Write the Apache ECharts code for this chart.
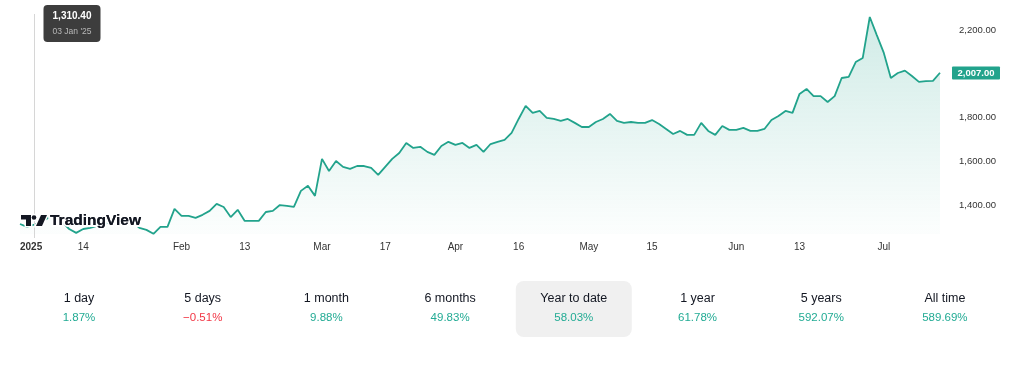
<!DOCTYPE html>
<html>
<head>
<meta charset="utf-8">
<script src="https://cdn.jsdelivr.net/npm/echarts@6/dist/echarts.min.js"></script>
<style>
html,body{margin:0;padding:0;background:#fff;}
#chart{width:1024px;height:369px;}
</style>
</head>
<body>
<div id="chart"></div>
<script>
// ---- trading days (NSE calendar) ----
const janDays = [1,2,3,6,7,8,9,10,13,14,15,16,17,20,21,22,23,24,27,28,29,30,31];
const febDays = [1,3,4,5,6,7,10,11,12,13,14,17,18,19,20,21,24,25,27,28];
const marDays = [3,4,5,6,7,10,11,12,13,17,18,19,20,21,24,25,26,27,28];
const aprDays = [1,2,3,4,7,8,9,11,15,16,17,21,22,23,24,25,28,29,30];
const mayDays = [2,5,6,7,8,9,12,13,14,15,16,19,20,21,22,23,26,27,28,29,30];
const junDays = [2,3,4,5,6,9,10,11,12,13,16,17,18,19,20,23,24,25,26,27,30];
const julDays = [1,2,3,4,7,8,9,10,11];

// ---- closing prices ----
const prices = [
1313,1300,1310.4,1322,1341,1355,1322,1290,1272,1290,
1295,1304,1313,1322,1332,1336,1322,1295,1286,1268,
1300,1300,1382,1350,1350,1341,1355,1373,1405,1391,
1345,1378,1327,1327,1327,1368,1373,1400,1396,1391,
1465,1488,1442,1612,1556,1602,1575,1566,1579,1579,
1570,1538,1575,1612,1639,1685,1662,1667,1644,1630,
1671,1690,1676,1685,1662,1676,1644,1680,1690,1699,
1731,1795,1855,1823,1832,1800,1795,1786,1795,1777,
1758,1758,1781,1795,1818,1786,1777,1781,1777,1777,
1790,1772,1749,1726,1740,1722,1722,1777,1740,1722,
1763,1745,1745,1754,1740,1740,1749,1790,1809,1832,
1823,1910,1933,1900,1900,1873,1900,1983,1988,2056,
2075,2263,2180,2098,1983,2006,2017,1992,1965,1969,
1970,2007
];

// ---- axis tick labels ----
const tickDates  = ['2025-01-01','2025-01-14','2025-02-01','2025-02-13','2025-03-03','2025-03-17','2025-04-01','2025-04-16','2025-05-02','2025-05-15','2025-06-02','2025-06-13','2025-07-01'];
const tickLabels = ['2025','14','Feb','13','Mar','17','Apr','16','May','15','Jun','13','Jul'];
const yTicks = [1400,1600,1800,2200];

// ---- performance row ----
const periodLabels = ['1 day','5 days','1 month','6 months','Year to date','1 year','5 years','All time'];
const periodValues = [1.87,-0.51,9.88,49.83,58.03,61.78,592.07,589.69];
const selectedPeriod = 4;

// ---- crosshair info ----
const hoverDate = '2025-01-03';
const hoverLabel = "03 Jan '25";

const pad = n => (n < 10 ? '0' + n : '' + n);
const dates = [];
[[1,janDays],[2,febDays],[3,marDays],[4,aprDays],[5,mayDays],[6,junDays],[7,julDays]].forEach(([m, days]) => {
  days.forEach(d => dates.push('2025-' + pad(m) + '-' + pad(d)));
});
const tickMap = new Map(tickDates.map((d, i) => [d, tickLabels[i]]));

const fmt = v => v.toLocaleString('en-US', {minimumFractionDigits: 2, maximumFractionDigits: 2});

const LINE = '#22a38c';
const FONT = '"Liberation Sans", Arial, sans-serif';

const chart = echarts.init(document.getElementById('chart'), null, {renderer: 'canvas'});

chart.setOption({
  animation: false,
  grid: {left: 20, top: 0, width: 920, height: 234, containLabel: false},
  xAxis: {
    type: 'category',
    data: dates,
    boundaryGap: false,
    axisLine: {show: false},
    axisTick: {show: false},
    splitLine: {show: false},
    axisLabel: {
      interval: (idx, val) => tickMap.has(val),
      formatter: val => {
        const t = tickMap.get(val) || '';
        return t === '2025' ? '{y|' + t + '}' : t;
      },
      alignMinLabel: 'left',
      margin: 8,
      color: '#333',
      fontSize: 10,
      fontFamily: FONT,
      rich: {y: {fontWeight: 'bold', fontSize: 10, color: '#333', fontFamily: FONT}}
    }
  },
  yAxis: {
    type: 'value',
    position: 'right',
    min: 1267,
    max: 2341,
    axisLine: {show: false},
    axisTick: {show: false},
    splitLine: {show: false},
    axisLabel: {
      customValues: yTicks,
      formatter: v => fmt(v),
      margin: 19,
      color: '#333',
      fontSize: 9.5,
      fontFamily: FONT
    }
  },
  series: [{
    type: 'line',
    data: prices,
    symbol: 'none',
    lineStyle: {color: LINE, width: 1.8},
    areaStyle: {
      color: new echarts.graphic.LinearGradient(0, 0, 0, 1, [
        {offset: 0, color: 'rgba(34,163,140,0.30)'},
        {offset: 1, color: 'rgba(34,163,140,0.02)'}
      ])
    },
    z: 2
  }]
});

// overlay elements positioned via the chart's own scales
const hi = dates.indexOf(hoverDate);
const hx = Math.round(chart.convertToPixel({xAxisIndex: 0}, hi)) + 0.5;
const last = prices[prices.length - 1];
const ly = chart.convertToPixel({yAxisIndex: 0}, last);

const g = [];
// crosshair
g.push({type: 'line', shape: {x1: hx, y1: 14, x2: hx, y2: 238}, style: {stroke: '#d6d6d6', lineWidth: 1}, z: 5});
// tooltip
g.push({type: 'rect', shape: {x: hx + 9, y: 5, width: 57, height: 37, r: 4}, style: {fill: 'rgba(45,45,45,0.92)'}, z: 20});
g.push({type: 'text', x: hx + 37.5, y: 16, style: {text: fmt(prices[hi]), fill: '#fff', font: 'bold 10px ' + FONT, align: 'center', verticalAlign: 'middle'}, z: 21});
g.push({type: 'text', x: hx + 37.5, y: 32, style: {text: hoverLabel, fill: '#b8b8b8', font: '8.5px ' + FONT, align: 'center', verticalAlign: 'middle'}, z: 21});
// last price label
g.push({type: 'rect', shape: {x: 952, y: Math.round(ly) - 6.5, width: 48, height: 13, r: 1}, style: {fill: LINE}, z: 20});
g.push({type: 'text', x: 976, y: Math.round(ly), style: {text: fmt(last), fill: '#fff', font: 'bold 9.5px ' + FONT, align: 'center', verticalAlign: 'middle'}, z: 21});

// TradingView watermark
const halo = {stroke: '#fff', lineWidth: 3};
const iconBar = [[21,215],[31,215],[31,226],[26,226],[26,219.5],[21,219.5]];
const iconSlash = [[41,215],[47,215],[42,226],[36,226]];
[10, 11].forEach(z => {
  const st = z === 10 ? halo : {};
  g.push({type: 'polygon', shape: {points: iconBar}, style: Object.assign({fill: '#131722'}, st), z});
  g.push({type: 'circle', shape: {cx: 34, cy: 217.5, r: 2.3}, style: Object.assign({fill: '#131722'}, st), z});
  g.push({type: 'polygon', shape: {points: iconSlash}, style: Object.assign({fill: '#131722'}, st), z});
  g.push({type: 'text', x: 50, y: 221, style: Object.assign({text: 'TradingView', fill: '#131722', font: 'bold 15.5px ' + FONT, verticalAlign: 'middle'}, z === 10 ? {stroke: '#fff', lineWidth: 4} : {}), z});
});

// performance row
const colW = 123.7, col0 = 79;
g.push({type: 'rect', shape: {x: col0 + colW * selectedPeriod - 58, y: 281, width: 116, height: 56, r: 8}, style: {fill: '#f0f0f0'}, z: 1});
periodLabels.forEach((lab, k) => {
  const cx = col0 + colW * k;
  const v = periodValues[k];
  g.push({type: 'text', x: cx, y: 299, style: {text: lab, fill: '#131722', font: '12.5px ' + FONT, align: 'center', verticalAlign: 'middle'}, z: 5});
  g.push({type: 'text', x: cx, y: 318, style: {text: (v < 0 ? '\u2212' : '') + Math.abs(v).toFixed(2) + '%', fill: v < 0 ? '#f23645' : '#22ab94', font: '11.5px ' + FONT, align: 'center', verticalAlign: 'middle'}, z: 5});
});

chart.setOption({graphic: {elements: g}});
</script>
</body>
</html>
